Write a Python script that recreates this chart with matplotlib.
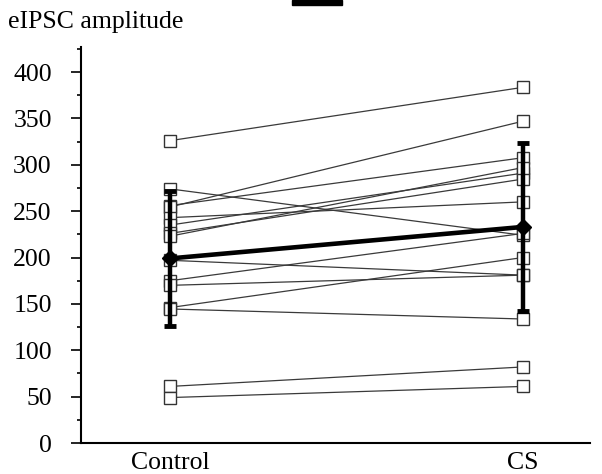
import matplotlib
matplotlib.use("Agg")
import matplotlib.pyplot as plt
from matplotlib.patches import Rectangle
from matplotlib.ticker import MultipleLocator

groups = ["Control", "CS"]
control = [326, 274, 256, 254.5, 243, 235, 226, 223, 197, 175, 170, 146, 144.5, 61, 49]
cs = [383.5, 224, 307.6, 347, 260, 291, 284.6, 297, 181, 226, 181, 200, 133.7, 82, 61]
mean_vals = [199, 233]
sem_vals = [73, 91]
y_ticks = [0, 50, 100, 150, 200, 250, 300, 350, 400]

plt.rcParams['font.family'] = ['Liberation Serif', 'DejaVu Serif']

fig = plt.figure(figsize=(6.02, 4.74), dpi=100)
W, H = 602, 474
ax = fig.add_axes([81 / W, (H - 443) / H, (590 - 81) / W, (443 - 47) / H])

xs = [0, 1]
for c, s in zip(control, cs):
    ax.plot(xs, [c, s], color='#3a3a3a', lw=0.9, zorder=2)
    ax.plot(xs, [c, s], ls='none', marker='s', ms=8, mfc='white',
            mec='#333333', mew=1.0, zorder=3)

ax.errorbar(xs, mean_vals, yerr=sem_vals, color='black', lw=3.3,
            elinewidth=3.2, capsize=4.2, capthick=3.5, marker='D', ms=8,
            zorder=5)

ax.set_xlim(-0.252, 1.19)
ax.set_ylim(0, 427)
ax.set_yticks(y_ticks)
ax.yaxis.set_minor_locator(MultipleLocator(25))
ax.set_xticks(xs)
ax.set_xticklabels(groups)
ax.tick_params(axis='x', length=0, labelsize=18.5, pad=6.5)
ax.tick_params(axis='y', which='major', length=7, width=1.2, labelsize=18.5, pad=14)
ax.tick_params(axis='y', which='minor', length=3, width=1.2)
for sp in ['top', 'right']:
    ax.spines[sp].set_visible(False)
for sp in ['left', 'bottom']:
    ax.spines[sp].set_linewidth(1.5)

fig.text(8 / W, 1 - 22 / H, "eIPSC amplitude", fontsize=18.5, va='center', ha='left')
fig.patches.append(Rectangle((292 / W, 1 - 5 / H), 50 / W, 5 / H,
                             transform=fig.transFigure, color='black'))

fig.savefig("out.png", dpi=100)
